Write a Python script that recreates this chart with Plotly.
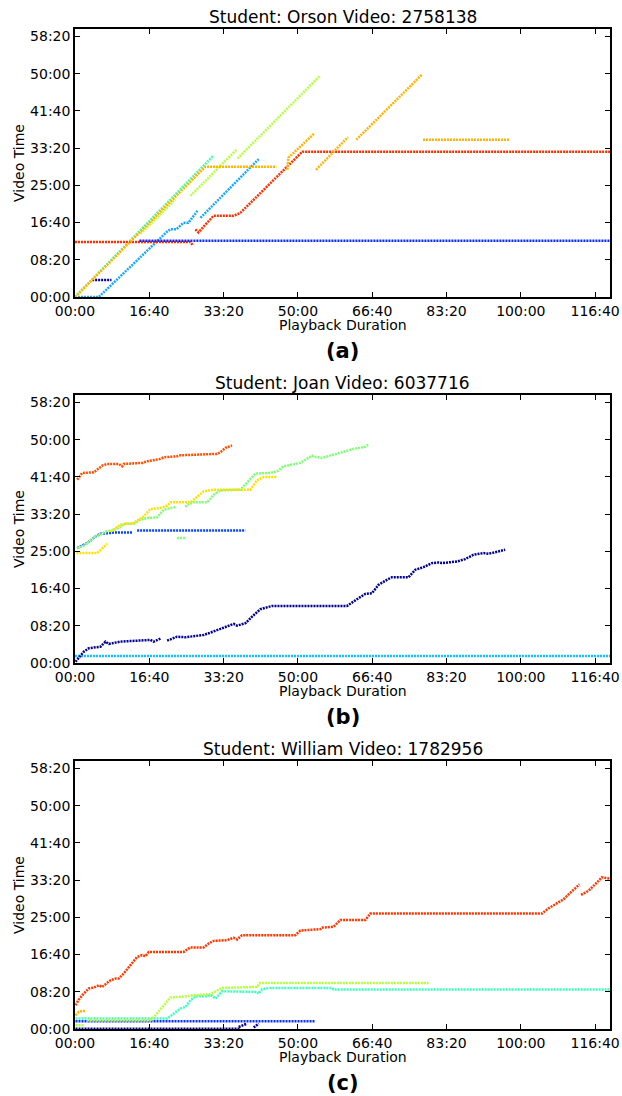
import plotly.graph_objects as go

# ---------------- axis ticks ----------------
x_tick_vals = [0, 1000, 2000, 3000, 4000, 5000, 6000, 7000]
x_tick_text = ["00:00", "16:40", "33:20", "50:00", "66:40", "83:20", "100:00", "116:40"]
y_tick_vals = [0, 500, 1000, 1500, 2000, 2500, 3000, 3500]
y_tick_text = ["00:00", "08:20", "16:40", "25:00", "33:20", "41:40", "50:00", "58:20"]

titles = ["Student: Orson Video: 2758138", "Student: Joan Video: 6037716", "Student: William Video: 1782956"]
panel_labels = ["(a)", "(b)", "(c)"]

# ---------------- panel (a) : seconds ----------------
a_sky_x = [0, 320, 1240, 1284, 1365, 1459, 1526, 1647, None, 1688, 2472]
a_sky_y = [0, 0, 879, 911, 911, 996, 996, 1157, None, 1063, 1853]
a_aqua_x = [0, 1867]
a_aqua_y = [0, 1904]
a_ygreen_x = [881, 1351, None, 1553, 2172, None, 2189, 3290]
a_ygreen_y = [850, 1310, None, 1359, 1978, None, 1861, 2965]
a_red_x = [0, 1553, 1580, None, 1620, 1661, 1863, 2132, 2226, 3059, 7200]
a_red_y = [740, 740, 700, None, 908, 868, 1090, 1090, 1131, 1952, 1952]
a_blue_x = [867, 7200]
a_blue_y = [754, 754]
a_navy_x = [231, 491]
a_navy_y = [229, 229]
a_orange_x = [0, 1755, 2710, None, 2858, 2871, 3216, None, 3244, 3674, None, 3786, 4669, None, 4683, 5843]
a_orange_y = [0, 1750, 1750, None, 1709, 1871, 2194, None, 1709, 2149, None, 2113, 2988, None, 2113, 2113]

# ---------------- panel (b) ----------------
b_cyan_x = [0, 7200]
b_cyan_y = [94, 94]
b_navy_x = [7, 118, 186, 343, 410, 455, 612, 1015, 1060, 1150, None, 1240, 1374, 1486, 1598, 1732, 1822,
            1912, 2047, 2136, 2181, 2293, 2383, 2495, 2652, 3661, 3817, 3907, 3997, 4085, 4198, 4266,
            4489, 4579, 4691, 4804, 4892, 4938, 5140, 5251, 5363, 5498, 5565, 5678, 5789]
b_navy_y = [17, 152, 198, 219, 287, 256, 287, 310, 287, 327, None, 300, 354, 346, 363, 377, 408,
            444, 489, 525, 502, 534, 623, 723, 767, 767, 871, 929, 938, 1050, 1117, 1153,
            1153, 1252, 1288, 1342, 1350, 1342, 1363, 1396, 1454, 1476, 1467, 1490, 1521]
b_blue_x = [30, 164, 276, 343, 477, 522, 769, None, 836, 2293]
b_blue_y = [1544, 1611, 1700, 1736, 1746, 1754, 1754, None, 1781, 1781]
b_green_x = [30, 118, 276, 343, 410, 522, 612, 679, 791, 881, 971, 1105, 1194, 1352, None, 1486, 1509,
             1598, 1778, 1867, 1957, 2226, 2360, 2427, 2629, 2719, 2808, 3032, 3190, 3234, 3324,
             3570, 3661, 3749, 3907, 3943, None, 1374, 1486]
b_green_y = [1544, 1575, 1700, 1723, 1767, 1781, 1835, 1871, 1871, 1925, 1948, 1956, 2059, 2096, None, 2096, 2127,
             2158, 2158, 2261, 2319, 2328, 2472, 2544, 2553, 2575, 2642, 2688, 2786, 2768, 2755,
             2822, 2857, 2876, 2903, 2934, None, 1678, 1678]
b_yellow_x = [20, 299, 433, None, 477, 568, 612, 679, 769, 858, 925, 1015, 1150, 1240, 1284, 1553,
              1643, 1732, 1867, 2360, 2450, 2539, 2719]
b_yellow_y = [1476, 1476, 1602, None, 1767, 1826, 1857, 1871, 1871, 1925, 1969, 2069, 2082, 2113, 2158, 2158,
              2238, 2306, 2328, 2328, 2454, 2499, 2499]
b_red_x = [30, 97, 253, 299, 366, 433, 589, 635, 656, 904, 971, 1150, 1194, 1374, 1419, 1912, 1957, 2024, 2114]
b_red_y = [2463, 2553, 2561, 2598, 2651, 2674, 2674, 2642, 2674, 2688, 2709, 2742, 2763, 2777, 2790, 2809, 2831, 2890, 2921]

# ---------------- panel (c) ----------------
c_navy_x = [7, 2226, None, 2203, 2316, None, 2405, 2472]
c_navy_y = [5, 5, None, 27, 73, None, 19, 73]
c_blue_x = [7, 3234]
c_blue_y = [104, 104]
c_aqua_x = [7, 1240, 1329, 1419, 1486, 1553, 1620, 1778, 1822, 1890, 1980, 2450, 2472, 2517, 2606, 3459, 3480, 7200]
c_aqua_y = [140, 140, 207, 275, 296, 386, 440, 440, 460, 409, 507, 498, 476, 534, 552, 552, 530, 530]
c_ygreen_x = [7, 118, None, 164, 1015, 1083, 1284, 1509, 1598, 1822, 1980, 2450, 2485, 4758]
c_ygreen_y = [50, 50, None, 117, 117, 184, 423, 440, 454, 467, 552, 565, 619, 619]
c_orange_x = [7, 51, 97, 141]
c_orange_y = [184, 229, 242, 242]
c_red_x = [7, 51, 118, 186, 253, 320, 366, 410, 477, 545, 589, 656, 746, 836, 904, 948, 992, 1463, 1509,
           1553, 1732, 1800, 1867, 2047, 2136, 2181, 2249, 2965, 3033, 3301, 3324, 3480, 3570, 3907, 3974,
           6283, 6372, 6485, 6573, 6619, 6789, None, 6811, 6910, 7022, 7090, 7200]
c_red_y = [319, 396, 476, 544, 557, 588, 565, 602, 655, 678, 678, 746, 857, 969, 992, 978, 1036, 1036, 1069,
           1096, 1096, 1149, 1184, 1194, 1225, 1203, 1261, 1261, 1322, 1342, 1362, 1373, 1463, 1463, 1550,
           1550, 1620, 1688, 1742, 1786, 1943, None, 1801, 1857, 1965, 2038, 2019]

panels = [
    [(a_sky_x, a_sky_y, "#1aa8ff"), (a_aqua_x, a_aqua_y, "#45ffb0"), (a_ygreen_x, a_ygreen_y, "#b5ff40"),
     (a_red_x, a_red_y, "#ff3000"), (a_blue_x, a_blue_y, "#0a2cff"), (a_navy_x, a_navy_y, "#000090"),
     (a_orange_x, a_orange_y, "#ffb400")],
    [(b_cyan_x, b_cyan_y, "#10c4ff"), (b_navy_x, b_navy_y, "#000090"), (b_blue_x, b_blue_y, "#0a44ff"),
     (b_green_x, b_green_y, "#80ff78"), (b_yellow_x, b_yellow_y, "#ffe000"), (b_red_x, b_red_y, "#ff5000")],
    [(c_navy_x, c_navy_y, "#000090"), (c_blue_x, c_blue_y, "#0a30ff"), (c_aqua_x, c_aqua_y, "#40ffc0"),
     (c_ygreen_x, c_ygreen_y, "#b5ff40"), (c_orange_x, c_orange_y, "#ffb000"), (c_red_x, c_red_y, "#ff3800")],
]

W, H = 622, 1096
plot_left, plot_right = 75, 610
plot_tops = [29, 395, 761]
plot_h = 268
FONT = "DejaVu Sans"

fig = go.Figure()
annotations = []
for i, series in enumerate(panels):
    n = "" if i == 0 else str(i + 1)
    xa, ya = "x" + n, "y" + n
    for xs, ys, col in series:
        fig.add_trace(go.Scatter(x=xs, y=ys, mode="lines", xaxis=xa, yaxis=ya,
                                 line=dict(color=col, width=2.5, dash="2px,1px"),
                                 connectgaps=False, showlegend=False, hoverinfo="skip"))
    top = plot_tops[i]
    bot = top + plot_h
    dom_y = [1 - bot / H, 1 - top / H]
    axis_common = dict(showline=True, mirror="ticks", linecolor="black", linewidth=1.5,
                       ticks="inside", ticklen=5, tickwidth=1, tickcolor="black",
                       showgrid=False, zeroline=False, automargin=False,
                       tickfont=dict(family=FONT, size=14, color="black"))
    fig.update_layout(**{
        ("xaxis" + n): dict(domain=[plot_left / W, plot_right / W], range=[0, 7200],
                            tickvals=x_tick_vals, ticktext=x_tick_text, anchor=ya, **axis_common),
        ("yaxis" + n): dict(domain=dom_y, range=[0, 3600],
                            tickvals=y_tick_vals, ticktext=y_tick_text, anchor=xa, **axis_common),
    })
    cx = (plot_left + plot_right) / 2 / W
    annotations.append(dict(text=titles[i], x=cx, y=1 - (top - 12) / H, xref="paper", yref="paper",
                            showarrow=False, xanchor="center", yanchor="middle",
                            font=dict(family=FONT, size=17, color="black")))
    annotations.append(dict(text="Playback Duration", x=cx, y=1 - (bot + 28) / H, xref="paper", yref="paper",
                            showarrow=False, xanchor="center", yanchor="middle",
                            font=dict(family=FONT, size=14, color="black")))
    annotations.append(dict(text="<b>" + panel_labels[i] + "</b>", x=cx, y=1 - (bot + 54) / H,
                            xref="paper", yref="paper", showarrow=False, xanchor="center", yanchor="middle",
                            font=dict(family=FONT, size=21, color="black")))
    annotations.append(dict(text="Video Time", x=19 / W, y=1 - (top + plot_h / 2) / H, xref="paper",
                            yref="paper", showarrow=False, textangle=-90, xanchor="center", yanchor="middle",
                            font=dict(family=FONT, size=14, color="black")))

fig.update_layout(width=W, height=H, margin=dict(l=0, r=0, t=0, b=0, autoexpand=False),
                  paper_bgcolor="white", plot_bgcolor="white", annotations=annotations)
fig.write_html("out.html", config={"displayModeBar": False},
               post_script="document.body.style.margin='0';document.body.style.overflow='hidden';")
